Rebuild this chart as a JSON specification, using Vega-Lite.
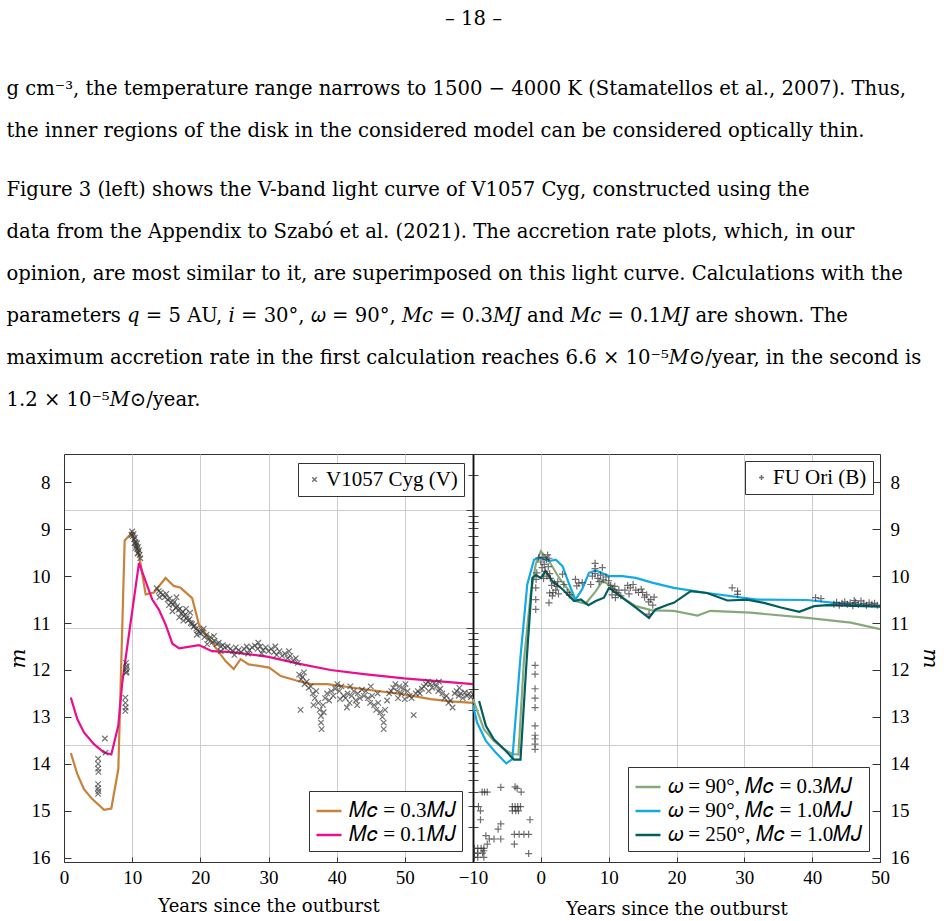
{
  "$schema": "https://vega.github.io/schema/vega-lite/v6.json",
  "background": "white",
  "padding": {"left": 6, "top": 8, "right": 4, "bottom": 4},
  "config": {
    "font": "Liberation Serif",
    "view": {"stroke": "#333", "strokeWidth": 1},
    "axis": {"labelFont": "Liberation Serif", "titleFont": "DejaVu Serif", "labelFontSize": 19, "titleFontSize": 18, "titleFontWeight": "normal", "labelColor": "black", "titleColor": "black", "domainColor": "#333", "tickColor": "#333", "gridColor": "#cccccc", "labelFlush": false, "labelOverlap": false},
    "legend": {"labelFont": "Liberation Serif", "labelFontSize": 21, "labelColor": "black", "labelLimit": 400, "strokeColor": "#333", "fillColor": "white", "padding": 6, "offset": 9, "title": null},
    "title": {"font": "DejaVu Serif", "fontWeight": "normal", "color": "black"}
  },
  "title": {"text": "– 18 –", "anchor": "middle", "fontSize": 19.6, "offset": 50},
  "datasets": {
    "v1057": [
      {"year":5.0,"m":13.89},{"year":5.0,"m":14.0},{"year":5.0,"m":14.1},{"year":5.05,"m":14.17},{"year":5.0,"m":14.43},{"year":5.0,"m":14.52},{"year":5.05,"m":14.58},{"year":5.0,"m":14.64},{"year":6.0,"m":13.46},{"year":6.1,"m":13.76},
      {"year":9.0,"m":12.59},{"year":9.0,"m":12.7},{"year":9.05,"m":12.8},{"year":9.0,"m":12.87},{"year":9.1,"m":11.85},{"year":9.2,"m":11.92},{"year":9.15,"m":11.98},{"year":9.2,"m":12.04},{"year":9.1,"m":12.06},
      {"year":9.9,"m":9.12},{"year":10.0,"m":9.05},{"year":10.1,"m":9.15},{"year":10.2,"m":9.1},{"year":10.3,"m":9.22},{"year":10.35,"m":9.3},{"year":10.4,"m":9.18},{"year":10.5,"m":9.28},{"year":10.6,"m":9.35},{"year":10.7,"m":9.3},{"year":10.75,"m":9.42},{"year":10.85,"m":9.38},{"year":10.9,"m":9.5},{"year":11.0,"m":9.45},{"year":11.1,"m":9.55},{"year":11.2,"m":9.62},{"year":10.8,"m":9.52},{"year":10.5,"m":9.4},
      {"year":13.6,"m":10.26},{"year":13.9,"m":10.32},{"year":14.2,"m":10.35},{"year":14.5,"m":10.4},{"year":14.8,"m":10.45},{"year":15.0,"m":10.38},{"year":15.2,"m":10.5},{"year":15.5,"m":10.48},{"year":15.7,"m":10.56},{"year":16.0,"m":10.6},{"year":16.2,"m":10.55},{"year":16.4,"m":10.68},{"year":16.6,"m":10.64},{"year":16.8,"m":10.72},{"year":17.0,"m":10.7},{"year":17.2,"m":10.8},{"year":17.4,"m":10.76},{"year":17.6,"m":10.85},{"year":17.8,"m":10.82},{"year":18.0,"m":10.9},{"year":18.2,"m":10.95},{"year":18.4,"m":10.92},{"year":18.6,"m":11.0},{"year":18.8,"m":11.02},{"year":19.0,"m":11.08},{"year":19.2,"m":11.05},{"year":19.4,"m":11.12},{"year":19.6,"m":11.15},{"year":19.8,"m":11.18},{"year":20.0,"m":11.22},{"year":15.4,"m":10.62},{"year":16.5,"m":10.45},{"year":17.5,"m":10.95},{"year":18.5,"m":10.78},{"year":19.5,"m":11.25},{"year":14.0,"m":10.45},{"year":17.9,"m":10.7},{"year":16.9,"m":10.88},{"year":15.9,"m":10.75},
      {"year":20.3,"m":11.2},{"year":20.6,"m":11.3},{"year":20.9,"m":11.25},{"year":21.2,"m":11.35},{"year":21.5,"m":11.3},{"year":21.8,"m":11.4},{"year":22.1,"m":11.38},{"year":22.4,"m":11.45},{"year":22.7,"m":11.42},{"year":23.0,"m":11.5},{"year":23.3,"m":11.47},{"year":23.6,"m":11.52},{"year":24.0,"m":11.5},{"year":20.5,"m":11.12},{"year":21.0,"m":11.45},{"year":22.0,"m":11.28},{"year":23.0,"m":11.6},
      {"year":24.4,"m":11.55},{"year":24.8,"m":11.6},{"year":25.2,"m":11.52},{"year":25.6,"m":11.58},{"year":26.0,"m":11.62},{"year":26.4,"m":11.55},{"year":26.8,"m":11.5},{"year":27.2,"m":11.58},{"year":27.6,"m":11.52},{"year":28.0,"m":11.48},{"year":28.4,"m":11.55},{"year":28.8,"m":11.5},{"year":29.2,"m":11.58},{"year":29.6,"m":11.52},{"year":30.0,"m":11.6},{"year":25.0,"m":11.68},{"year":27.0,"m":11.65},{"year":28.5,"m":11.42},{"year":29.0,"m":11.65},
      {"year":30.4,"m":11.55},{"year":30.8,"m":11.62},{"year":31.2,"m":11.68},{"year":31.6,"m":11.6},{"year":32.0,"m":11.7},{"year":32.4,"m":11.65},{"year":32.8,"m":11.75},{"year":33.2,"m":11.7},{"year":33.6,"m":11.8},{"year":34.0,"m":11.75},{"year":31.0,"m":11.5},{"year":33.0,"m":11.6},{"year":34.3,"m":11.85},
      {"year":34.5,"m":12.1},{"year":34.8,"m":12.2},{"year":35.0,"m":12.15},{"year":35.3,"m":12.3},{"year":35.6,"m":12.25},{"year":35.9,"m":12.38},{"year":34.7,"m":12.85},{"year":35.2,"m":12.05},
      {"year":36.2,"m":12.35},{"year":36.5,"m":12.5},{"year":36.8,"m":12.6},{"year":37.0,"m":12.45},{"year":37.3,"m":12.7},{"year":37.5,"m":12.85},{"year":37.7,"m":12.98},{"year":37.7,"m":13.12},{"year":37.8,"m":13.26},{"year":38.0,"m":12.75},{"year":38.3,"m":12.6},{"year":38.6,"m":12.5},{"year":38.9,"m":12.65},{"year":39.2,"m":12.45},{"year":39.5,"m":12.55},{"year":39.8,"m":12.4},{"year":36.6,"m":12.75},{"year":38.1,"m":12.9},
      {"year":40.1,"m":12.3},{"year":40.4,"m":12.45},{"year":40.7,"m":12.35},{"year":41.0,"m":12.55},{"year":41.3,"m":12.6},{"year":41.6,"m":12.5},{"year":41.9,"m":12.7},{"year":42.2,"m":12.55},{"year":42.5,"m":12.45},{"year":42.8,"m":12.65},{"year":43.1,"m":12.5},{"year":43.4,"m":12.6},{"year":43.7,"m":12.42},{"year":40.5,"m":12.62},{"year":41.5,"m":12.8},{"year":42.0,"m":12.35},{"year":43.0,"m":12.75},
      {"year":44.0,"m":12.55},{"year":44.3,"m":12.45},{"year":44.6,"m":12.6},{"year":44.9,"m":12.7},{"year":45.2,"m":12.55},{"year":45.5,"m":12.75},{"year":45.8,"m":12.85},{"year":46.1,"m":12.7},{"year":46.4,"m":12.9},{"year":46.7,"m":13.0},{"year":46.9,"m":13.12},{"year":46.9,"m":13.26},{"year":47.1,"m":12.85},{"year":47.4,"m":12.65},{"year":47.7,"m":12.5},{"year":48.0,"m":12.45},{"year":45.0,"m":12.35},{"year":46.0,"m":12.5},
      {"year":48.3,"m":12.38},{"year":48.6,"m":12.3},{"year":48.9,"m":12.45},{"year":49.2,"m":12.35},{"year":49.5,"m":12.5},{"year":49.8,"m":12.4},{"year":50.1,"m":12.3},{"year":50.4,"m":12.45},{"year":50.7,"m":12.55},{"year":51.0,"m":12.6},{"year":51.3,"m":12.96},{"year":51.6,"m":12.5},{"year":51.9,"m":12.45},{"year":49.0,"m":12.6},{"year":50.0,"m":12.62},
      {"year":52.2,"m":12.5},{"year":52.5,"m":12.4},{"year":52.8,"m":12.35},{"year":53.1,"m":12.3},{"year":53.4,"m":12.25},{"year":53.7,"m":12.3},{"year":54.0,"m":12.38},{"year":54.3,"m":12.28},{"year":54.6,"m":12.35},{"year":54.9,"m":12.45},{"year":55.2,"m":12.4},{"year":55.5,"m":12.5},{"year":55.8,"m":12.6},{"year":56.1,"m":12.55},{"year":56.4,"m":12.7},{"year":56.7,"m":12.65},{"year":57.0,"m":12.8},{"year":57.3,"m":12.5},{"year":57.6,"m":12.45},{"year":57.9,"m":12.55},{"year":58.2,"m":12.5},{"year":58.5,"m":12.6},{"year":58.8,"m":12.48},{"year":59.1,"m":12.55},{"year":59.4,"m":12.5},{"year":59.7,"m":12.58},{"year":60.0,"m":12.52},{"year":53.5,"m":12.45},{"year":55.0,"m":12.25},{"year":58.0,"m":12.38}
    ],
    "cyg_models": [
      {"model":"𝑀𝑐 = 0.3𝑀𝐽","year":1.0,"m":13.77},{"model":"𝑀𝑐 = 0.3𝑀𝐽","year":1.96,"m":14.22},{"model":"𝑀𝑐 = 0.3𝑀𝐽","year":2.93,"m":14.54},{"model":"𝑀𝑐 = 0.3𝑀𝐽","year":4.15,"m":14.75},{"model":"𝑀𝑐 = 0.3𝑀𝐽","year":5.87,"m":14.98},{"model":"𝑀𝑐 = 0.3𝑀𝐽","year":6.94,"m":14.95},{"model":"𝑀𝑐 = 0.3𝑀𝐽","year":7.97,"m":14.11},{"model":"𝑀𝑐 = 0.3𝑀𝐽","year":8.9,"m":9.24},{"model":"𝑀𝑐 = 0.3𝑀𝐽","year":9.93,"m":9.08},{"model":"𝑀𝑐 = 0.3𝑀𝐽","year":11.0,"m":9.54},{"model":"𝑀𝑐 = 0.3𝑀𝐽","year":11.98,"m":10.39},{"model":"𝑀𝑐 = 0.3𝑀𝐽","year":13.2,"m":10.35},{"model":"𝑀𝑐 = 0.3𝑀𝐽","year":14.9,"m":10.04},{"model":"𝑀𝑐 = 0.3𝑀𝐽","year":16.1,"m":10.21},{"model":"𝑀𝑐 = 0.3𝑀𝐽","year":17.1,"m":10.25},{"model":"𝑀𝑐 = 0.3𝑀𝐽","year":18.8,"m":10.47},{"model":"𝑀𝑐 = 0.3𝑀𝐽","year":19.8,"m":11.03},{"model":"𝑀𝑐 = 0.3𝑀𝐽","year":20.8,"m":11.24},{"model":"𝑀𝑐 = 0.3𝑀𝐽","year":23.7,"m":11.81},{"model":"𝑀𝑐 = 0.3𝑀𝐽","year":24.9,"m":11.98},{"model":"𝑀𝑐 = 0.3𝑀𝐽","year":25.9,"m":11.77},{"model":"𝑀𝑐 = 0.3𝑀𝐽","year":27.1,"m":11.88},{"model":"𝑀𝑐 = 0.3𝑀𝐽","year":30.1,"m":11.95},{"model":"𝑀𝑐 = 0.3𝑀𝐽","year":31.8,"m":12.13},{"model":"𝑀𝑐 = 0.3𝑀𝐽","year":34.2,"m":12.23},{"model":"𝑀𝑐 = 0.3𝑀𝐽","year":36.2,"m":12.3},{"model":"𝑀𝑐 = 0.3𝑀𝐽","year":38.6,"m":12.3},{"model":"𝑀𝑐 = 0.3𝑀𝐽","year":44.0,"m":12.41},{"model":"𝑀𝑐 = 0.3𝑀𝐽","year":49.85,"m":12.52},{"model":"𝑀𝑐 = 0.3𝑀𝐽","year":53.8,"m":12.62},{"model":"𝑀𝑐 = 0.3𝑀𝐽","year":56.7,"m":12.67},{"model":"𝑀𝑐 = 0.3𝑀𝐽","year":60.0,"m":12.7},
      {"model":"𝑀𝑐 = 0.1𝑀𝐽","year":1.0,"m":12.59},{"model":"𝑀𝑐 = 0.1𝑀𝐽","year":1.96,"m":13.05},{"model":"𝑀𝑐 = 0.1𝑀𝐽","year":2.93,"m":13.33},{"model":"𝑀𝑐 = 0.1𝑀𝐽","year":4.4,"m":13.58},{"model":"𝑀𝑐 = 0.1𝑀𝐽","year":5.87,"m":13.76},{"model":"𝑀𝑐 = 0.1𝑀𝐽","year":6.94,"m":13.8},{"model":"𝑀𝑐 = 0.1𝑀𝐽","year":7.96,"m":13.19},{"model":"𝑀𝑐 = 0.1𝑀𝐽","year":8.55,"m":12.27},{"model":"𝑀𝑐 = 0.1𝑀𝐽","year":9.04,"m":11.75},{"model":"𝑀𝑐 = 0.1𝑀𝐽","year":11.0,"m":9.72},{"model":"𝑀𝑐 = 0.1𝑀𝐽","year":12.95,"m":10.5},{"model":"𝑀𝑐 = 0.1𝑀𝐽","year":13.9,"m":10.71},{"model":"𝑀𝑐 = 0.1𝑀𝐽","year":14.9,"m":11.03},{"model":"𝑀𝑐 = 0.1𝑀𝐽","year":15.9,"m":11.44},{"model":"𝑀𝑐 = 0.1𝑀𝐽","year":16.9,"m":11.54},{"model":"𝑀𝑐 = 0.1𝑀𝐽","year":19.8,"m":11.47},{"model":"𝑀𝑐 = 0.1𝑀𝐽","year":21.7,"m":11.6},{"model":"𝑀𝑐 = 0.1𝑀𝐽","year":24.6,"m":11.62},{"model":"𝑀𝑐 = 0.1𝑀𝐽","year":30.0,"m":11.72},{"model":"𝑀𝑐 = 0.1𝑀𝐽","year":34.2,"m":11.86},{"model":"𝑀𝑐 = 0.1𝑀𝐽","year":39.1,"m":12.0},{"model":"𝑀𝑐 = 0.1𝑀𝐽","year":44.0,"m":12.09},{"model":"𝑀𝑐 = 0.1𝑀𝐽","year":49.9,"m":12.18},{"model":"𝑀𝑐 = 0.1𝑀𝐽","year":60.0,"m":12.3}
    ],
    "cyg_rates": [
      {"model":"𝑀𝑐 = 0.3𝑀𝐽","mdot_max":6.6e-5},{"model":"𝑀𝑐 = 0.1𝑀𝐽","mdot_max":1.2e-5}
    ],
    "fuori": [
      {"year":-8.65,"m":14.6},{"year":-8.3,"m":14.6},{"year":-7.9,"m":14.6},{"year":-5.9,"m":14.5},{"year":-3.8,"m":14.49},{"year":-3.5,"m":14.52},{"year":-2.9,"m":14.6},
      {"year":-9.2,"m":14.91},{"year":-8.9,"m":15.0},{"year":-8.9,"m":15.19},{"year":-4.2,"m":14.91},{"year":-3.8,"m":14.91},{"year":-3.4,"m":14.91},{"year":-3.0,"m":14.91},{"year":-4.2,"m":15.0},{"year":-3.7,"m":15.0},{"year":-3.3,"m":15.0},{"year":-1.6,"m":15.19},{"year":-5.9,"m":15.28},{"year":-6.3,"m":15.39},{"year":-8.1,"m":15.53},{"year":-7.6,"m":15.6},{"year":-6.9,"m":15.6},{"year":-5.9,"m":15.6},{"year":-3.9,"m":15.5},{"year":-3.2,"m":15.5},{"year":-2.5,"m":15.5},{"year":-1.8,"m":15.5},{"year":-3.9,"m":15.71},{"year":-7.9,"m":15.71},{"year":-8.4,"m":15.8},{"year":-1.8,"m":15.91},{"year":-9.8,"m":15.8},{"year":-9.3,"m":15.8},{"year":-8.8,"m":15.8},{"year":-8.4,"m":15.85},{"year":-9.8,"m":15.9},{"year":-9.3,"m":15.9},{"year":-8.6,"m":15.9},{"year":-9.8,"m":15.99},{"year":-9.3,"m":15.99},{"year":-8.4,"m":15.99},
      {"year":-0.85,"m":11.9},{"year":-0.85,"m":12.09},{"year":-0.85,"m":12.4},{"year":-0.85,"m":12.6},{"year":-0.85,"m":12.8},{"year":-0.85,"m":13.19},{"year":-0.85,"m":13.39},{"year":-0.85,"m":13.47},{"year":-0.85,"m":13.58},{"year":-0.85,"m":13.69},
      {"year":-0.75,"m":10.71},{"year":-0.75,"m":10.5},{"year":-0.75,"m":10.25},{"year":-0.7,"m":10.07},{"year":-0.6,"m":9.93},{"year":-0.3,"m":9.61},{"year":0.0,"m":9.7},{"year":0.2,"m":9.82},
      {"year":0.3,"m":9.6},{"year":0.5,"m":9.75},{"year":0.6,"m":9.9},{"year":0.8,"m":9.65},{"year":0.9,"m":10.0},{"year":1.1,"m":9.8},{"year":1.2,"m":9.62},{"year":1.3,"m":9.95},{"year":1.4,"m":10.05},{"year":0.4,"m":10.05},{"year":1.0,"m":9.55},
      {"year":1.2,"m":10.57},{"year":1.3,"m":10.36},{"year":1.6,"m":10.2},{"year":1.8,"m":10.35},{"year":2.0,"m":10.15},{"year":2.2,"m":10.3},{"year":2.4,"m":10.22},{"year":2.6,"m":10.38},{"year":1.7,"m":10.42},{"year":2.5,"m":10.12},
      {"year":3.2,"m":9.96},{"year":3.4,"m":10.18},{"year":3.9,"m":10.35},{"year":4.2,"m":10.4},{"year":5.1,"m":10.07},{"year":5.3,"m":10.21},{"year":5.6,"m":10.15},{"year":6.1,"m":10.14},{"year":7.35,"m":10.18},{"year":8.0,"m":9.73},{"year":8.0,"m":9.84},{"year":9.07,"m":9.82},
      {"year":7.6,"m":10.0},{"year":8.0,"m":9.95},{"year":8.4,"m":10.05},{"year":8.8,"m":9.98},{"year":9.2,"m":10.08},{"year":9.6,"m":10.02},{"year":10.0,"m":10.1},{"year":8.6,"m":10.12},
      {"year":10.3,"m":10.2},{"year":10.6,"m":10.28},{"year":10.9,"m":10.22},{"year":11.2,"m":10.35},{"year":11.5,"m":10.3},{"year":11.8,"m":10.42},{"year":10.5,"m":10.4},{"year":11.0,"m":10.46},
      {"year":12.4,"m":10.3},{"year":12.8,"m":10.2},{"year":13.2,"m":10.25},{"year":13.6,"m":10.18},{"year":14.0,"m":10.3},{"year":14.4,"m":10.35},{"year":14.8,"m":10.28},{"year":13.0,"m":10.38},
      {"year":15.0,"m":10.35},{"year":15.3,"m":10.45},{"year":15.6,"m":10.4},{"year":15.9,"m":10.55},{"year":16.2,"m":10.5},{"year":16.5,"m":10.62},{"year":16.7,"m":10.45},{"year":15.95,"m":10.81},
      {"year":28.2,"m":10.25},{"year":29.0,"m":10.32},{"year":29.0,"m":10.39},{"year":40.5,"m":10.46},{"year":41.3,"m":10.48},
      {"year":43.2,"m":10.6},{"year":43.6,"m":10.56},{"year":44.0,"m":10.62},{"year":44.4,"m":10.58},{"year":44.8,"m":10.55},{"year":45.2,"m":10.6},{"year":45.6,"m":10.57},{"year":46.0,"m":10.63},{"year":46.4,"m":10.56},{"year":46.8,"m":10.6},{"year":47.2,"m":10.53},{"year":47.6,"m":10.58},{"year":48.0,"m":10.62},{"year":48.4,"m":10.57},{"year":48.8,"m":10.6},{"year":49.2,"m":10.58},{"year":49.6,"m":10.62},{"year":46.2,"m":10.52}
    ],
    "fu_models": [
      {"model":"𝜔 = 90°, 𝑀𝑐 = 0.3𝑀𝐽","year":-10.0,"m":12.62},{"model":"𝜔 = 90°, 𝑀𝑐 = 0.3𝑀𝐽","year":-8.4,"m":13.26},{"model":"𝜔 = 90°, 𝑀𝑐 = 0.3𝑀𝐽","year":-6.9,"m":13.51},{"model":"𝜔 = 90°, 𝑀𝑐 = 0.3𝑀𝐽","year":-5.4,"m":13.69},{"model":"𝜔 = 90°, 𝑀𝑐 = 0.3𝑀𝐽","year":-4.2,"m":13.79},{"model":"𝜔 = 90°, 𝑀𝑐 = 0.3𝑀𝐽","year":-3.3,"m":13.8},{"model":"𝜔 = 90°, 𝑀𝑐 = 0.3𝑀𝐽","year":-2.5,"m":11.81},{"model":"𝜔 = 90°, 𝑀𝑐 = 0.3𝑀𝐽","year":-1.5,"m":10.39},{"model":"𝜔 = 90°, 𝑀𝑐 = 0.3𝑀𝐽","year":-0.75,"m":9.75},{"model":"𝜔 = 90°, 𝑀𝑐 = 0.3𝑀𝐽","year":0.0,"m":9.47},{"model":"𝜔 = 90°, 𝑀𝑐 = 0.3𝑀𝐽","year":1.2,"m":9.68},{"model":"𝜔 = 90°, 𝑀𝑐 = 0.3𝑀𝐽","year":2.7,"m":10.04},{"model":"𝜔 = 90°, 𝑀𝑐 = 0.3𝑀𝐽","year":4.2,"m":10.32},{"model":"𝜔 = 90°, 𝑀𝑐 = 0.3𝑀𝐽","year":5.1,"m":10.53},{"model":"𝜔 = 90°, 𝑀𝑐 = 0.3𝑀𝐽","year":6.6,"m":10.59},{"model":"𝜔 = 90°, 𝑀𝑐 = 0.3𝑀𝐽","year":8.1,"m":10.32},{"model":"𝜔 = 90°, 𝑀𝑐 = 0.3𝑀𝐽","year":9.1,"m":10.11},{"model":"𝜔 = 90°, 𝑀𝑐 = 0.3𝑀𝐽","year":10.05,"m":10.18},{"model":"𝜔 = 90°, 𝑀𝑐 = 0.3𝑀𝐽","year":12.0,"m":10.46},{"model":"𝜔 = 90°, 𝑀𝑐 = 0.3𝑀𝐽","year":14.0,"m":10.64},{"model":"𝜔 = 90°, 𝑀𝑐 = 0.3𝑀𝐽","year":16.4,"m":10.73},{"model":"𝜔 = 90°, 𝑀𝑐 = 0.3𝑀𝐽","year":19.6,"m":10.74},{"model":"𝜔 = 90°, 𝑀𝑐 = 0.3𝑀𝐽","year":23.1,"m":10.84},{"model":"𝜔 = 90°, 𝑀𝑐 = 0.3𝑀𝐽","year":25.0,"m":10.74},{"model":"𝜔 = 90°, 𝑀𝑐 = 0.3𝑀𝐽","year":30.9,"m":10.78},{"model":"𝜔 = 90°, 𝑀𝑐 = 0.3𝑀𝐽","year":39.3,"m":10.89},{"model":"𝜔 = 90°, 𝑀𝑐 = 0.3𝑀𝐽","year":45.7,"m":10.99},{"model":"𝜔 = 90°, 𝑀𝑐 = 0.3𝑀𝐽","year":50.0,"m":11.13},
      {"model":"𝜔 = 90°, 𝑀𝑐 = 1.0𝑀𝐽","year":-10.0,"m":12.75},{"model":"𝜔 = 90°, 𝑀𝑐 = 1.0𝑀𝐽","year":-9.4,"m":13.12},{"model":"𝜔 = 90°, 𝑀𝑐 = 1.0𝑀𝐽","year":-8.1,"m":13.51},{"model":"𝜔 = 90°, 𝑀𝑐 = 1.0𝑀𝐽","year":-6.65,"m":13.76},{"model":"𝜔 = 90°, 𝑀𝑐 = 1.0𝑀𝐽","year":-5.1,"m":13.99},{"model":"𝜔 = 90°, 𝑀𝑐 = 1.0𝑀𝐽","year":-4.2,"m":13.9},{"model":"𝜔 = 90°, 𝑀𝑐 = 1.0𝑀𝐽","year":-3.0,"m":11.72},{"model":"𝜔 = 90°, 𝑀𝑐 = 1.0𝑀𝐽","year":-2.0,"m":10.18},{"model":"𝜔 = 90°, 𝑀𝑐 = 1.0𝑀𝐽","year":-1.0,"m":9.65},{"model":"𝜔 = 90°, 𝑀𝑐 = 1.0𝑀𝐽","year":0.0,"m":9.61},{"model":"𝜔 = 90°, 𝑀𝑐 = 1.0𝑀𝐽","year":1.2,"m":9.68},{"model":"𝜔 = 90°, 𝑀𝑐 = 1.0𝑀𝐽","year":2.2,"m":9.65},{"model":"𝜔 = 90°, 𝑀𝑐 = 1.0𝑀𝐽","year":3.2,"m":9.79},{"model":"𝜔 = 90°, 𝑀𝑐 = 1.0𝑀𝐽","year":4.2,"m":10.18},{"model":"𝜔 = 90°, 𝑀𝑐 = 1.0𝑀𝐽","year":5.1,"m":10.5},{"model":"𝜔 = 90°, 𝑀𝑐 = 1.0𝑀𝐽","year":6.1,"m":10.28},{"model":"𝜔 = 90°, 𝑀𝑐 = 1.0𝑀𝐽","year":7.1,"m":9.93},{"model":"𝜔 = 90°, 𝑀𝑐 = 1.0𝑀𝐽","year":8.1,"m":9.88},{"model":"𝜔 = 90°, 𝑀𝑐 = 1.0𝑀𝐽","year":10.05,"m":10.0},{"model":"𝜔 = 90°, 𝑀𝑐 = 1.0𝑀𝐽","year":12.0,"m":10.0},{"model":"𝜔 = 90°, 𝑀𝑐 = 1.0𝑀𝐽","year":14.0,"m":10.04},{"model":"𝜔 = 90°, 𝑀𝑐 = 1.0𝑀𝐽","year":16.4,"m":10.14},{"model":"𝜔 = 90°, 𝑀𝑐 = 1.0𝑀𝐽","year":19.6,"m":10.25},{"model":"𝜔 = 90°, 𝑀𝑐 = 1.0𝑀𝐽","year":24.5,"m":10.36},{"model":"𝜔 = 90°, 𝑀𝑐 = 1.0𝑀𝐽","year":31.9,"m":10.5},{"model":"𝜔 = 90°, 𝑀𝑐 = 1.0𝑀𝐽","year":39.3,"m":10.51},{"model":"𝜔 = 90°, 𝑀𝑐 = 1.0𝑀𝐽","year":43.2,"m":10.57},{"model":"𝜔 = 90°, 𝑀𝑐 = 1.0𝑀𝐽","year":50.0,"m":10.64},
      {"model":"𝜔 = 250°, 𝑀𝑐 = 1.0𝑀𝐽","year":-9.1,"m":12.66},{"model":"𝜔 = 250°, 𝑀𝑐 = 1.0𝑀𝐽","year":-8.1,"m":13.19},{"model":"𝜔 = 250°, 𝑀𝑐 = 1.0𝑀𝐽","year":-6.9,"m":13.48},{"model":"𝜔 = 250°, 𝑀𝑐 = 1.0𝑀𝐽","year":-5.4,"m":13.69},{"model":"𝜔 = 250°, 𝑀𝑐 = 1.0𝑀𝐽","year":-3.95,"m":13.91},{"model":"𝜔 = 250°, 𝑀𝑐 = 1.0𝑀𝐽","year":-3.0,"m":13.91},{"model":"𝜔 = 250°, 𝑀𝑐 = 1.0𝑀𝐽","year":-2.1,"m":11.81},{"model":"𝜔 = 250°, 𝑀𝑐 = 1.0𝑀𝐽","year":-1.25,"m":10.04},{"model":"𝜔 = 250°, 𝑀𝑐 = 1.0𝑀𝐽","year":-0.75,"m":9.98},{"model":"𝜔 = 250°, 𝑀𝑐 = 1.0𝑀𝐽","year":0.0,"m":10.04},{"model":"𝜔 = 250°, 𝑀𝑐 = 1.0𝑀𝐽","year":0.7,"m":9.89},{"model":"𝜔 = 250°, 𝑀𝑐 = 1.0𝑀𝐽","year":1.7,"m":10.11},{"model":"𝜔 = 250°, 𝑀𝑐 = 1.0𝑀𝐽","year":3.2,"m":10.28},{"model":"𝜔 = 250°, 𝑀𝑐 = 1.0𝑀𝐽","year":4.9,"m":10.53},{"model":"𝜔 = 250°, 𝑀𝑐 = 1.0𝑀𝐽","year":5.9,"m":10.5},{"model":"𝜔 = 250°, 𝑀𝑐 = 1.0𝑀𝐽","year":7.0,"m":10.62},{"model":"𝜔 = 250°, 𝑀𝑐 = 1.0𝑀𝐽","year":8.1,"m":10.53},{"model":"𝜔 = 250°, 𝑀𝑐 = 1.0𝑀𝐽","year":9.3,"m":10.46},{"model":"𝜔 = 250°, 𝑀𝑐 = 1.0𝑀𝐽","year":10.05,"m":10.25},{"model":"𝜔 = 250°, 𝑀𝑐 = 1.0𝑀𝐽","year":12.0,"m":10.46},{"model":"𝜔 = 250°, 𝑀𝑐 = 1.0𝑀𝐽","year":14.0,"m":10.67},{"model":"𝜔 = 250°, 𝑀𝑐 = 1.0𝑀𝐽","year":15.95,"m":10.89},{"model":"𝜔 = 250°, 𝑀𝑐 = 1.0𝑀𝐽","year":16.9,"m":10.71},{"model":"𝜔 = 250°, 𝑀𝑐 = 1.0𝑀𝐽","year":18.9,"m":10.6},{"model":"𝜔 = 250°, 𝑀𝑐 = 1.0𝑀𝐽","year":19.6,"m":10.57},{"model":"𝜔 = 250°, 𝑀𝑐 = 1.0𝑀𝐽","year":22.1,"m":10.32},{"model":"𝜔 = 250°, 𝑀𝑐 = 1.0𝑀𝐽","year":24.5,"m":10.36},{"model":"𝜔 = 250°, 𝑀𝑐 = 1.0𝑀𝐽","year":27.5,"m":10.52},{"model":"𝜔 = 250°, 𝑀𝑐 = 1.0𝑀𝐽","year":30.4,"m":10.5},{"model":"𝜔 = 250°, 𝑀𝑐 = 1.0𝑀𝐽","year":32.9,"m":10.57},{"model":"𝜔 = 250°, 𝑀𝑐 = 1.0𝑀𝐽","year":35.4,"m":10.67},{"model":"𝜔 = 250°, 𝑀𝑐 = 1.0𝑀𝐽","year":38.1,"m":10.76},{"model":"𝜔 = 250°, 𝑀𝑐 = 1.0𝑀𝐽","year":40.3,"m":10.64},{"model":"𝜔 = 250°, 𝑀𝑐 = 1.0𝑀𝐽","year":42.2,"m":10.62},{"model":"𝜔 = 250°, 𝑀𝑐 = 1.0𝑀𝐽","year":50.0,"m":10.65}
    ],
    "fu_rates": [
      {"model":"𝑀𝑐 = 0.3𝑀𝐽","mdot_max":6.6e-5},{"model":"𝑀𝑐 = 0.1𝑀𝐽","mdot_max":1.2e-5}
    ]
  },
  "vconcat": [
    {
      "title": {
        "text": ["g cm⁻³, the temperature range narrows to 1500 − 4000 K (Stamatellos et al., 2007).  Thus,", "the inner regions of the disk in the considered model can be considered optically thin."],
        "subtitle": ["\u2003\u2003\u2002Figure 3 (left) shows the V-band light curve of V1057 Cyg, constructed using the", "data from the Appendix to Szabó et al. (2021).  The accretion rate plots, which, in our", "opinion, are most similar to it, are superimposed on this light curve. Calculations with the", "parameters 𝑞 = 5 AU, 𝑖 = 30°, 𝜔 = 90°, 𝑀𝑐 = 0.3𝑀𝐽 and 𝑀𝑐 = 0.1𝑀𝐽 are shown.  The", "maximum accretion rate in the first calculation reaches 6.6 × 10⁻⁵𝑀⊙/year, in the second is", "1.2 × 10⁻⁵𝑀⊙/year."],
        "anchor": "start", "fontSize": 19.6, "lineHeight": 42, "subtitleFont": "DejaVu Serif", "subtitleFontSize": 19.6, "subtitleLineHeight": 42, "subtitleColor": "black", "subtitlePadding": 39, "offset": 43
      },
      "spacing": 0,
      "bounds": "flush",
      "resolve": {"scale": {"color": "independent", "shape": "independent"}, "legend": {"color": "independent", "shape": "independent"}},
      "hconcat": [
        {
          "width": 409, "height": 408,
          "resolve": {"scale": {"y": "independent"}, "axis": {"y": "independent"}},
          "layer": [
            {
              "encoding": {
                "x": {"field": "year", "type": "quantitative", "scale": {"domain": [0, 60], "nice": false, "zero": false}, "axis": {"values": [0, 10, 20, 30, 40, 50], "grid": true, "tickSize": -5, "labelPadding": 11, "title": "Years since the outburst", "titlePadding": 10}},
                "y": {"field": "m", "type": "quantitative", "scale": {"domain": [7.4, 16.09], "reverse": true, "nice": false, "zero": false}, "axis": {"orient": "left", "values": [8, 9, 10, 11, 12, 13, 14, 15, 16], "grid": false, "tickSize": -7, "labelPadding": 21, "title": "𝑚", "titleFontSize": 21, "titlePadding": 3}}
              },
              "layer": [
                {"data": {"name": "cyg_models"}, "mark": {"type": "line", "strokeWidth": 2.2, "clip": true},
                 "encoding": {"color": {"field": "model", "type": "nominal", "scale": {"domain": ["𝑀𝑐 = 0.3𝑀𝐽", "𝑀𝑐 = 0.1𝑀𝐽"], "range": ["#c8823c", "#ec0c8c"]}, "legend": {"orient": "bottom-right", "symbolType": "stroke", "symbolStrokeWidth": 2.5, "symbolSize": 625, "rowPadding": 0, "labelOffset": 6, "offset": 11}}}},
                {"data": {"name": "v1057"}, "mark": {"type": "point", "filled": false, "strokeWidth": 1.2, "size": 30, "color": "#3a3a3a", "clip": true},
                 "encoding": {"shape": {"datum": "V1057 Cyg (V)", "type": "nominal", "scale": {"range": ["M-1,-1L1,1M-1,1L1,-1"]}, "legend": {"orient": "top-right", "symbolSize": 20, "labelOffset": 1}}}}
              ]
            },
            {
              "data": {"name": "cyg_rates"},
              "mark": {"type": "point", "opacity": 0},
              "encoding": {
                "y": {"field": "mdot_max", "type": "quantitative", "scale": {"type": "log", "domain": [1.005e-7, 3.008e-4], "nice": false},
                  "axis": {"orient": "right", "title": null, "labels": false, "values": [2e-7, 3e-7, 4e-7, 5e-7, 6e-7, 7e-7, 8e-7, 9e-7, 1e-6, 2e-6, 3e-6, 4e-6, 5e-6, 6e-6, 7e-6, 8e-6, 9e-6, 1e-5, 2e-5, 3e-5, 4e-5, 5e-5, 6e-5, 7e-5, 8e-5, 9e-5, 1e-4, 2e-4],
                    "grid": true, "gridOpacity": {"condition": {"test": "abs(log(datum.value)/LN10 - round(log(datum.value)/LN10)) < 0.001", "value": 1}, "value": 0},
                    "tickSize": {"condition": {"test": "abs(log(datum.value)/LN10 - round(log(datum.value)/LN10)) < 0.001", "value": 7}, "value": 5},
                    "domainColor": "#111", "domainWidth": 1.5, "tickColor": "#444"}}
              }
            }
          ]
        },
        {
          "width": 407, "height": 408,
          "resolve": {"scale": {"y": "independent"}, "axis": {"y": "independent"}},
          "layer": [
            {
              "data": {"name": "fu_rates"},
              "mark": {"type": "point", "opacity": 0},
              "encoding": {
                "y": {"field": "mdot_max", "type": "quantitative", "scale": {"type": "log", "domain": [1.005e-7, 3.008e-4], "nice": false},
                  "axis": {"orient": "left", "title": null, "labels": false, "values": [2e-7, 3e-7, 4e-7, 5e-7, 6e-7, 7e-7, 8e-7, 9e-7, 1e-6, 2e-6, 3e-6, 4e-6, 5e-6, 6e-6, 7e-6, 8e-6, 9e-6, 1e-5, 2e-5, 3e-5, 4e-5, 5e-5, 6e-5, 7e-5, 8e-5, 9e-5, 1e-4, 2e-4],
                    "grid": true, "gridOpacity": {"condition": {"test": "abs(log(datum.value)/LN10 - round(log(datum.value)/LN10)) < 0.001", "value": 1}, "value": 0},
                    "tickSize": {"condition": {"test": "abs(log(datum.value)/LN10 - round(log(datum.value)/LN10)) < 0.001", "value": 7}, "value": 5},
                    "domainColor": "#111", "domainWidth": 1.5, "tickColor": "#444"}}
              }
            },
            {
              "encoding": {
                "x": {"field": "year", "type": "quantitative", "scale": {"domain": [-10, 50], "nice": false, "zero": false}, "axis": {"values": [-10, 0, 10, 20, 30, 40, 50], "grid": true, "tickSize": -5, "labelPadding": 11, "title": "Years since the outburst", "titlePadding": 13}},
                "y": {"field": "m", "type": "quantitative", "scale": {"domain": [7.4, 16.09], "reverse": true, "nice": false, "zero": false}, "axis": {"orient": "right", "values": [8, 9, 10, 11, 12, 13, 14, 15, 16], "grid": false, "tickSize": -8, "labelPadding": 18, "title": "𝑚", "titleFontSize": 21, "titlePadding": 10}}
              },
              "layer": [
                {"data": {"name": "fu_models"}, "mark": {"type": "line", "strokeWidth": 2.2, "clip": true},
                 "encoding": {"color": {"field": "model", "type": "nominal", "scale": {"domain": ["𝜔 = 90°, 𝑀𝑐 = 0.3𝑀𝐽", "𝜔 = 90°, 𝑀𝑐 = 1.0𝑀𝐽", "𝜔 = 250°, 𝑀𝑐 = 1.0𝑀𝐽"], "range": ["#86a97c", "#12aae6", "#005e5e"]}, "legend": {"orient": "bottom-right", "symbolType": "stroke", "symbolStrokeWidth": 2.5, "symbolSize": 625, "rowPadding": 0, "labelOffset": 6, "offset": 11}}}},
                {"data": {"name": "fuori"}, "mark": {"type": "point", "filled": false, "strokeWidth": 1.2, "size": 50, "color": "#333333", "clip": true},
                 "encoding": {"shape": {"datum": "FU Ori (B)", "type": "nominal", "scale": {"range": ["M-1,0L1,0M0,-1L0,1"]}, "legend": {"orient": "top-right", "symbolSize": 25, "labelOffset": 1, "offset": 7}}}}
              ]
            }
          ]
        }
      ]
    }
  ]
}
